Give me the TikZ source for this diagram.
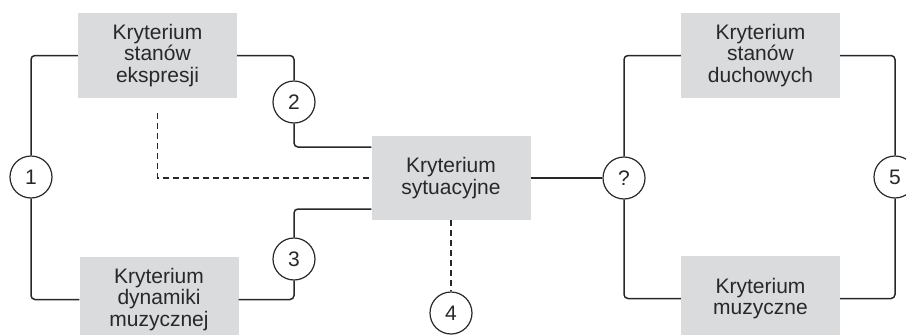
\documentclass[tikz,border=0pt]{standalone}
\usepackage{fontspec}
\setmainfont{Liberation Sans}
\usepackage{tikz}
\definecolor{boxgray}{RGB}{218,219,221}
\definecolor{inkgray}{RGB}{40,40,40}

\begin{document}
\begin{tikzpicture}[x=1pt,y=-1pt,
  crit/.style={fill=boxgray,minimum width=159pt,minimum height=85pt,inner sep=0pt,align=center,text=inkgray,font=\fontsize{21}{21.5}\selectfont},
  num/.style={circle,draw=inkgray,line width=1.2pt,fill=white,minimum size=42pt,inner sep=0pt,text=inkgray,font=\fontsize{21}{21}\selectfont},
  link/.style={draw=inkgray,line width=1.5pt,rounded corners=4pt},
  hint/.style={draw=inkgray,line width=1.5pt,dash pattern=on 6pt off 4pt}]
\useasboundingbox (0,0) rectangle (906,335);
\node (A) at (157.5,55.5) [crit] {Kryterium\\stanów\\ekspresji};
\node (B) at (159,299.5) [crit] {Kryterium\\dynamiki\\muzycznej};
\node (C) at (451,178) [crit,minimum height=84pt] {Kryterium\\sytuacyjne};
\node (D) at (760.5,55.5) [crit] {Kryterium\\stanów\\duchowych};
\node (E) at (760.5,298.5) [crit] {Kryterium\\muzyczne};
\node (n1) at (31,177) [num] {1};
\node (n2) at (294,102) [num] {2};
\node (n3) at (294,259) [num] {3};
\node (n4) at (451,313) [num] {4};
\node (nq) at (624,178) [num] {?};
\node (n5) at (895,177) [num] {5};
\coordinate (d1) at ([yshift=-15pt]A.south);
\draw[link] (A.west) -| (n1.north);
\draw[link] (n1.south) |- (B.west);
\draw[link] (A.east) -| (n2.north);
\draw[link] (n2.south) |- ([yshift=31pt]C.west);
\draw[link] (B.east) -| (n3.south);
\draw[link] (n3.north) |- ([yshift=-31pt]C.west);
\draw[hint] (d1) |- (C.west);
\draw[hint] (C.south) -- (n4.north);
\draw[link] (C.east) -- (nq.west);
\draw[link] (nq.north) |- (D.west);
\draw[link] (nq.south) |- (E.west);
\draw[link] (D.east) -| (n5.north);
\draw[link] (n5.south) |- (E.east);
\end{tikzpicture}
\end{document}
